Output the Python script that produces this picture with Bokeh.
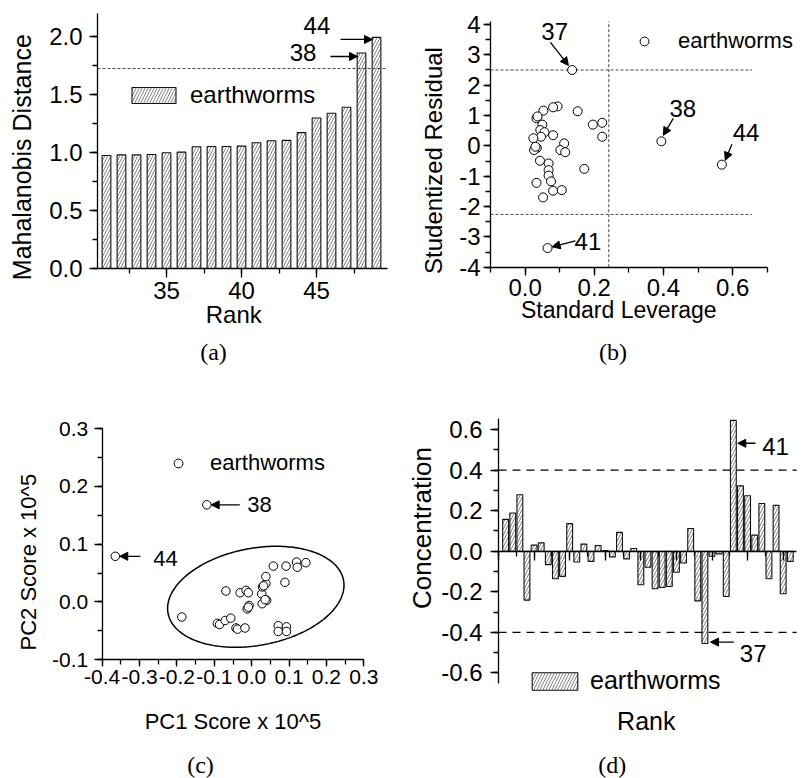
import numpy as np
from bokeh.plotting import figure
from bokeh.models import (Label, Arrow, NormalHead, SingleIntervalTicker, LinearAxis,
                          CustomJSTickFormatter, PrintfTickFormatter, Range1d,
                          Legend, LegendItem)
from bokeh.core.properties import value
from bokeh.embed import file_html
from bokeh.resources import INLINE

SANS = "Liberation Sans"
SERIF = "Liberation Serif"

# ---------------- data ----------------
# (a) Mahalanobis distance by rank
a_rank = list(range(31, 50))
a_mahal = [0.975, 0.980, 0.980, 0.984, 0.999, 1.004, 1.050, 1.053, 1.053, 1.056,
           1.085, 1.102, 1.105, 1.172, 1.299, 1.339, 1.391, 1.859, 1.994]
a_cutoff = 1.725

# (b) leverage vs studentized residual
b_leverage = [0.094, 0.081, 0.053, 0.152, 0.033, 0.036, 0.050, 0.196, 0.223, 0.223,
              0.081, 0.044, 0.056, 0.046, 0.024, 0.113, 0.034, 0.026, 0.030, 0.102,
              0.116, 0.171, 0.043, 0.068, 0.068, 0.068, 0.075, 0.033, 0.081, 0.106,
              0.052, 0.136, 0.394, 0.569, 0.065]
b_residual = [1.30, 1.27, 1.16, 1.14, 0.91, 0.97, 0.70, 0.70, 0.76, 0.30,
              0.35, 0.52, 0.45, 0.30, 0.25, 0.08, -0.07, -0.14, -0.03, -0.14,
              -0.21, -0.76, -0.49, -0.58, -0.80, -0.98, -1.17, -1.22, -1.48, -1.46,
              -1.70, 2.50, 0.15, -0.62, -3.37]
b_res_limits = [2.5, -2.26]
b_res_limit_end = 0.656
b_lev_limit = 0.242

# (c) PCA scores
c_pc1 = [-0.187, -0.069, -0.031, -0.015, -0.009, -0.092, -0.086, -0.071, -0.056, -0.042,
         -0.038, -0.018, -0.012, -0.007, -0.009, 0.027, 0.029, 0.038, 0.038, 0.040,
         0.028, 0.036, 0.032, 0.058, 0.092, 0.089, 0.120, 0.122, 0.145, 0.071,
         0.093, 0.071, 0.093, -0.120, -0.365]
c_pc2 = [-0.026, 0.019, 0.016, 0.020, 0.016, -0.037, -0.039, -0.032, -0.028, -0.045,
         -0.047, -0.045, -0.012, -0.006, -0.009, 0.014, 0.026, 0.032, 0.044, 0.003,
         -0.003, 0.004, 0.028, 0.062, 0.062, 0.034, 0.069, 0.060, 0.068, -0.041,
         -0.043, -0.051, -0.051, 0.168, 0.079]
# confidence ellipse: centre, half-widths, shear
c_ell_cx, c_ell_cy = 0.011, 0.009
c_ell_rx, c_ell_ry = 0.236, 0.085
c_ell_shear = 0.085

# (d) concentration residual by rank
d_rank = list(range(1, 42))
d_conc = [0.157, 0.188, 0.278, -0.241, 0.030, 0.041, -0.066, -0.136, -0.124, 0.136,
          -0.053, 0.035, -0.050, 0.028, 0.003, -0.028, 0.093, -0.038, 0.013, -0.165,
          -0.079, -0.185, -0.179, -0.174, -0.104, -0.058, 0.112, -0.245, -0.455, -0.025,
          -0.013, -0.223, 0.645, 0.322, 0.273, 0.079, 0.235, -0.136, 0.226, -0.210,
          -0.050]
d_limits = [0.4, -0.4]

# ---------------- layout (page pixels) ----------------
W, H = 804, 778
EPS = 1e-6
# data range of each panel and the page pixels where its ends sit
PANEL = {
    "a": dict(xr=(30.4, 49.733), yr=(0.0, 2.2), px=(97.0, 387.0), py=(268.0, 13.0)),
    "b": dict(xr=(-0.1, 0.7), yr=(-4.0, 4.1), px=(490.0, 766.7), py=(266.7, 20.95)),
    "c": dict(xr=(-0.4, 0.3), yr=(-0.1, 0.3), px=(101.7, 363.3), py=(659.3, 428.0)),
    "d": dict(xr=(0.0, 41.9), yr=(-0.652, 0.654), px=(498.0, 796.2), py=(683.0, 418.0)),
}


def full_range(vr, pr, total, from_top=False):
    v0, v1 = vr
    p0, p1 = pr
    if from_top:
        p0, p1 = total - p0, total - p1
    k = (v1 - v0) / (p1 - p0)
    return Range1d(v0 - p0 * k, v0 + (total - p0) * k)


p = figure(width=W, height=H, x_range=Range1d(0, W), y_range=Range1d(H, 0),
           x_axis_location=None, y_axis_location=None, min_border=0,
           output_backend="svg", toolbar_location=None, title=None)
p.outline_line_color = None
p.grid.visible = False
p.background_fill_color = "white"
p.border_fill_color = "white"
p.extra_x_ranges = {k: full_range(v["xr"], v["px"], W) for k, v in PANEL.items()}
p.extra_y_ranges = {k: full_range(v["yr"], v["py"], H, from_top=True) for k, v in PANEL.items()}


def make_axis(key, dim, interval, fmt, font_size, standoff, tick_out=8, minor_out=5,
              loc=None):
    b = PANEL[key]
    rng = b["xr"] if dim == "x" else b["yr"]
    other = b["yr"] if dim == "x" else b["xr"]
    ax = LinearAxis(x_range_name=key, y_range_name=key,
                    fixed_location=other[0] if loc is None else loc,
                    bounds=(rng[0] - EPS, rng[1] + EPS))
    ax.ticker = SingleIntervalTicker(interval=interval, num_minor_ticks=2)
    ax.formatter = fmt
    ax.axis_line_width = 1.3
    ax.axis_line_color = "black"
    ax.major_tick_line_width = 1.3
    ax.minor_tick_line_width = 1.3
    ax.major_tick_line_color = "black"
    ax.minor_tick_line_color = "black"
    ax.major_tick_in = 0
    ax.minor_tick_in = 0
    ax.major_tick_out = tick_out
    ax.minor_tick_out = minor_out
    ax.major_label_text_font = SANS
    ax.major_label_text_font_size = f"{font_size}px"
    ax.major_label_text_color = "black"
    ax.major_label_standoff = standoff
    p.add_layout(ax, "below" if dim == "x" else "left")
    return ax


def label(x, y, text, size, key=None, font=SANS, vertical=False):
    kw = dict(x_range_name=key, y_range_name=key) if key else {}
    p.add_layout(Label(x=x, y=y, text=text, text_font=font,
                       text_font_size=f"{size}px", text_align="center",
                       text_baseline="middle", angle=np.pi / 2 if vertical else 0.0,
                       text_color="black", **kw))


def arrow(key, x0, y0, x1, y1):
    p.add_layout(Arrow(end=NormalHead(size=8, fill_color="black", line_color="black",
                                      line_width=1),
                       x_start=x0, y_start=y0, x_end=x1, y_end=y1,
                       x_range_name=key, y_range_name=key,
                       line_color="black", line_width=1.3))


def legend(renderer, loc, gw, gh, standoff, size):
    lg = Legend(items=[LegendItem(label=value("earthworms"), renderers=[renderer])],
                location=loc, glyph_width=gw, glyph_height=gh, label_standoff=standoff,
                padding=0, margin=0, spacing=0, border_line_color=None,
                background_fill_alpha=0, label_text_font=SANS,
                label_text_font_size=f"{size}px", label_text_color="black")
    p.add_layout(lg)


f1 = PrintfTickFormatter(format="%.1f")
fi = PrintfTickFormatter(format="%d")
hatch = dict(fill_color="white", line_color="#111111", line_width=1.1,
             hatch_pattern="/", hatch_scale=6, hatch_weight=0.6, hatch_color="#333333")
dash_short = dict(line_dash="3 2", line_color="#444444", line_width=1)

# ---------------- (a) ----------------
ra = p.vbar(x=a_rank, top=a_mahal, width=0.58, bottom=0, x_range_name="a",
            y_range_name="a", **hatch)
p.segment(x0=[PANEL["a"]["xr"][0]], y0=[a_cutoff], x1=[PANEL["a"]["xr"][1]], y1=[a_cutoff],
          x_range_name="a", y_range_name="a", **dash_short)
make_axis("a", "x", 5, fi, 24, 4, tick_out=9)
make_axis("a", "y", 0.5, f1, 24, 7)
legend(ra, (126, 669), 55, 20, 9, 24)
label(21.7, 156.7, "Mahalanobis Distance", 25, vertical=True)
label(233.3, 314.0, "Rank", 24)
label(213.0, 351.0, "(a)", 24, font=SERIF)
label(45.03, 2.096, "44", 24, key="a")
label(44.10, 1.866, "38", 24, key="a")
arrow("a", 46.6, 1.976, 48.73, 1.976)
arrow("a", 45.93, 1.829, 47.73, 1.829)

# ---------------- (b) ----------------
p.segment(x0=[PANEL["b"]["xr"][0]] * 2, y0=b_res_limits, x1=[b_res_limit_end] * 2,
          y1=b_res_limits, x_range_name="b", y_range_name="b", **dash_short)
p.segment(x0=[b_lev_limit], y0=[PANEL["b"]["yr"][0]], x1=[b_lev_limit],
          y1=[PANEL["b"]["yr"][1]], x_range_name="b", y_range_name="b", **dash_short)
rb = p.scatter(b_leverage, b_residual, marker="circle", size=9, fill_color="white",
               line_color="black", line_width=1, x_range_name="b", y_range_name="b")
make_axis("b", "x", 0.2, f1, 24, 4)
make_axis("b", "y", 1, fi, 24, 3, tick_out=7)
legend(rb, (633, 724), 22, 22, 23, 22)
label(432.5, 160.0, "Studentized Residual", 24, vertical=True)
label(618.3, 309.0, "Standard Leverage", 23)
label(612.5, 351.0, "(b)", 24, font=SERIF)
label(0.0854, 3.777, "37", 24, key="b")
arrow("b", 0.0733, 3.409, 0.1253, 2.651)
label(0.456, 1.225, "38", 24, key="b")
arrow("b", 0.4285, 0.906, 0.3996, 0.346)
label(0.6388, 0.455, "44", 24, key="b")
arrow("b", 0.598, 0.05, 0.5787, -0.477)
label(0.1816, -3.167, "41", 24, key="b")
arrow("b", 0.1455, -3.134, 0.0782, -3.33)

# ---------------- (c) ----------------
t = np.linspace(0, 2 * np.pi, 240)
ell_x = c_ell_cx + c_ell_rx * np.cos(t)
ell_y = c_ell_cy + c_ell_ry * np.sin(t) + c_ell_shear * c_ell_rx * np.cos(t)
p.line(ell_x, ell_y, line_color="black", line_width=1.5, x_range_name="c", y_range_name="c")
rc = p.scatter(c_pc1, c_pc2, marker="circle", size=8.5, fill_color="white",
               line_color="black", line_width=1, x_range_name="c", y_range_name="c")
make_axis("c", "x", 0.1, f1, 21, 3, tick_out=7)
make_axis("c", "y", 0.1, f1, 21, 6)
legend(rc, (167, 302), 22, 22, 21, 22)
label(27.5, 561.7, "PC2 Score x 10^5", 22, vertical=True)
label(232.5, 721.0, "PC1 Score x 10^5", 22)
label(200.0, 764.0, "(c)", 24, font=SERIF)
label(0.0209, 0.1686, "38", 22, key="c")
arrow("c", -0.0318, 0.168, -0.1084, 0.168)
label(-0.2307, 0.0760, "44", 22, key="c")
arrow("c", -0.2976, 0.079, -0.3530, 0.079)

# ---------------- (d) ----------------
rd = p.vbar(x=d_rank, top=d_conc, width=0.82, bottom=0, x_range_name="d",
            y_range_name="d", **hatch)
p.segment(x0=[PANEL["d"]["xr"][0]] * 2, y0=d_limits, x1=[PANEL["d"]["xr"][1]] * 2,
          y1=d_limits, x_range_name="d", y_range_name="d",
          line_dash="8 6", line_color="black", line_width=1.3)
make_axis("d", "x", 5, CustomJSTickFormatter(code="return ''"), 24, 4, tick_out=9, loc=0)
make_axis("d", "y", 0.2, f1, 24, 8)
legend(rd, (526, 83), 57, 22, 7, 25)
label(421.7, 527.5, "Concentration", 26, vertical=True)
label(645.8, 720.0, "Rank", 25)
label(611.7, 764.0, "(d)", 24, font=SERIF)
label(38.92, 0.517, "41", 24, key="d")
arrow("d", 36.11, 0.532, 33.62, 0.532)
label(35.79, -0.5017, "37", 24, key="d")
arrow("d", 33.06, -0.448, 29.79, -0.448)

open("out.html", "w").write(file_html(p, INLINE))
